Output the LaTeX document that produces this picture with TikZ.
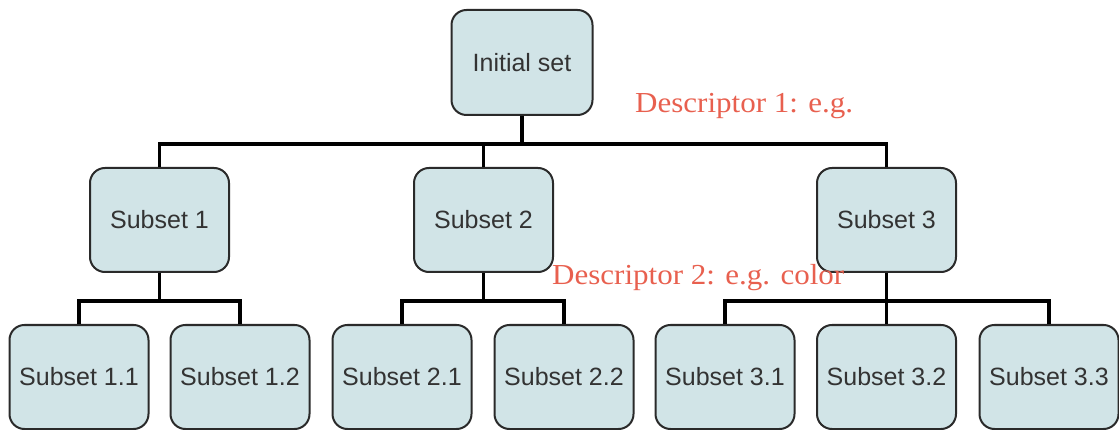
\documentclass[tikz,border=0pt]{standalone}
\usepackage{fontspec}
\setmainfont{Liberation Sans}
\newfontfamily\descfont[FakeStretch=1.07]{Liberation Serif}
\definecolor{boxfill}{HTML}{D1E4E7}
\definecolor{boxline}{HTML}{2A2A2A}
\definecolor{boxtext}{HTML}{333333}
\definecolor{desc}{HTML}{E8604F}
\begin{document}
\begin{tikzpicture}[x=1pt,y=-1pt,
  setbox/.style={draw=boxline, line width=2pt, fill=boxfill, rounded corners=15pt,
    minimum width=139pt, minimum height=104pt, inner sep=0pt,
    text=boxtext, font=\fontsize{25}{29}\selectfont},
  conn/.style={line width=3.5pt, black},
  desclabel/.style={text=desc, font=\descfont\fontsize{29}{33}\selectfont, inner sep=0pt}]
\useasboundingbox (0,0) rectangle (1119,430);
\node[setbox, minimum width=141pt, minimum height=105pt] (init) at (522,62.5) {Initial set};
\node[setbox] (s1) at (159.5,220) {Subset 1};
\node[setbox] (s2) at (483.5,220) {Subset 2};
\node[setbox] (s3) at (886.5,220) {Subset 3};
\node[setbox] (s11) at (79,377) {Subset 1.1};
\node[setbox] (s12) at (240,377) {Subset 1.2};
\node[setbox] (s21) at (402,377) {Subset 2.1};
\node[setbox] (s22) at (564,377) {Subset 2.2};
\node[setbox] (s31) at (725,377) {Subset 3.1};
\node[setbox] (s32) at (886.5,377) {Subset 3.2};
\node[setbox] (s33) at (1049,377) {Subset 3.3};
\coordinate (busA) at (0,144);
\coordinate (busB) at (0,301);
\draw[conn] (init.south) -- (init.south |- busA) -| (s1.north);
\draw[conn] (init.south |- busA) -| (s2.north);
\draw[conn] (init.south |- busA) -| (s3.north);
\draw[conn] (s1.south) -- (s1.south |- busB) -| (s11.north);
\draw[conn] (s1.south |- busB) -| (s12.north);
\draw[conn] (s2.south) -- (s2.south |- busB) -| (s21.north);
\draw[conn] (s2.south |- busB) -| (s22.north);
\draw[conn] (s3.south) -- (s3.south |- busB) -| (s31.north);
\draw[conn] (s3.south |- busB) -- (s32.north);
\draw[conn] (s3.south |- busB) -| (s33.north);
\node[desclabel, anchor=base west] (d1) at (635,113) {Descriptor 1: e.g.};
\node[desclabel, anchor=base west] (d2) at (552,285) {Descriptor 2: e.g. color};
\end{tikzpicture}
\end{document}
